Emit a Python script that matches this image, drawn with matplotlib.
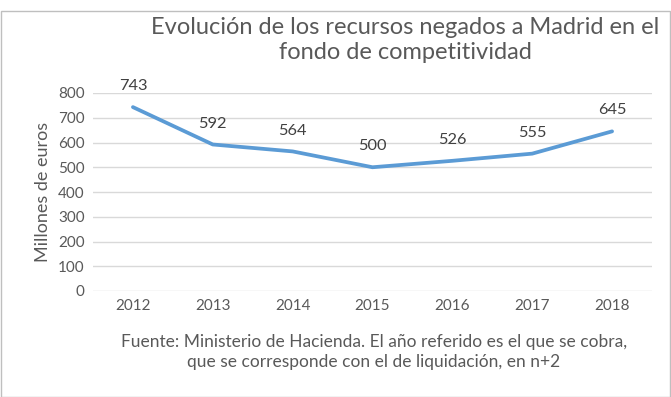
import matplotlib.pyplot as plt
from matplotlib.patches import Rectangle

years = ['2012', '2013', '2014', '2015', '2016', '2017', '2018']
importes = [743, 592, 564, 500, 526, 555, 645]
yticks = [0, 100, 200, 300, 400, 500, 600, 700, 800]

plt.rcParams['font.family'] = ['Lato', 'DejaVu Sans']
gris = '#595959'

fig = plt.figure(figsize=(6.71, 3.97), dpi=100)
ax = fig.add_axes([93/671, 1 - 291/397, (652 - 93)/671, (291 - 93)/397])

x = range(len(years))
ax.plot(x, importes, color='#5B9BD5', lw=2.7, solid_joinstyle='round', solid_capstyle='round')
for xi, v in zip(x, importes):
    ax.annotate(str(v), (xi, v), xytext=(0, 10), textcoords='offset points',
                ha='center', va='bottom', fontsize=11.8, color='#404040')

ax.set_xlim(-0.5, len(years) - 0.5)
ax.set_ylim(0, 800)
ax.set_yticks(yticks)
ax.set_xticks(list(x))
ax.set_xticklabels(years)
ax.tick_params(length=0, labelsize=11, colors=gris, pad=6)
ax.grid(axis='y', color='#D9D9D9', lw=1)
ax.set_axisbelow(True)
for s in ax.spines.values():
    s.set_visible(False)
ax.set_ylabel('Millones de euros', fontsize=13, color=gris, labelpad=5)

fig.text(405/671, 1 - 40/397,
         'Evolución de los recursos negados a Madrid en el\nfondo de competitividad',
         ha='center', va='center', fontsize=17, color=gris, linespacing=1.25)
fig.text(374/671, 1 - 352/397,
         'Fuente: Ministerio de Hacienda. El año referido es el que se cobra,\n'
         'que se corresponde con el de liquidación, en n+2',
         ha='center', va='center', fontsize=12.5, color=gris, linespacing=1.27)

fig.patches.append(Rectangle((0.5/671, 0.5/397), 1 - 2/671, 1 - 11/397,
                             transform=fig.transFigure, fill=False,
                             edgecolor='#BFBFBF', lw=1))

fig.savefig('out.png', dpi=100)
